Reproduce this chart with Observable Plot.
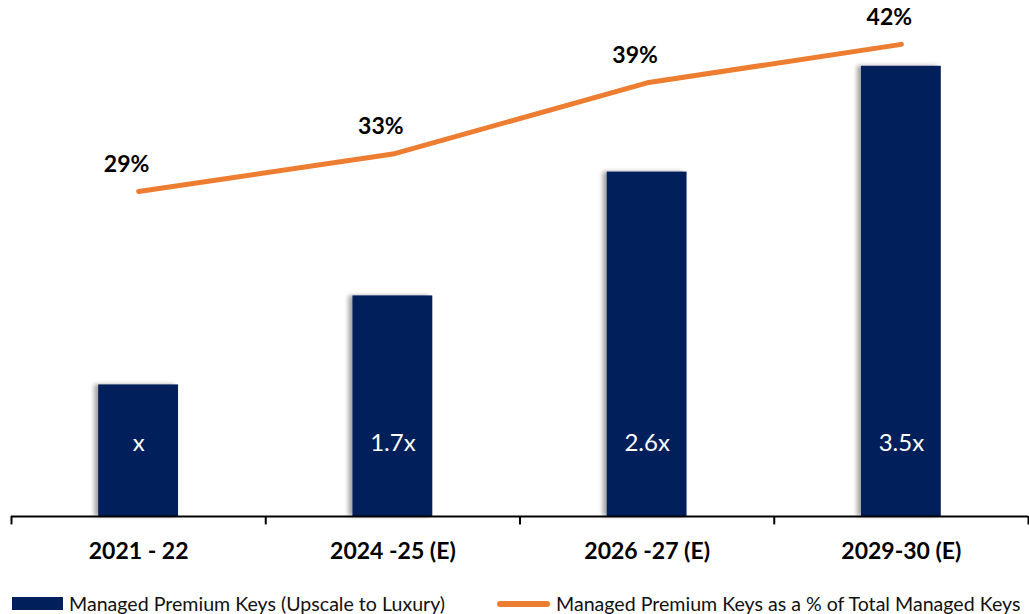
<!DOCTYPE html>
<html>
<head>
<meta charset="utf-8">
<script src="https://cdn.jsdelivr.net/npm/d3@7"></script>
<script src="https://cdn.jsdelivr.net/npm/@observablehq/plot@0.6"></script>
<style>
  html, body { margin: 0; padding: 0; background: #fff; }
  body { width: 1029px; height: 614px; overflow: hidden; font-family: Lato, "Open Sans", sans-serif; }
  .bars rect { filter: drop-shadow(-4px 0px 2px rgba(0,0,0,0.35)); }
  .legend { position: absolute; top: 593px; left: 0; width: 1029px; height: 21px; font-size: 19.6px; color: #111; }
  .legend .item { position: absolute; top: 0; display: flex; align-items: center; height: 21px; white-space: nowrap; }
  .legend .sw-bar { width: 51px; height: 13px; background: #001F5B; margin-right: 6px; }
  .legend .sw-line { width: 53px; height: 6px; border-radius: 3px; background: #ED7D31; margin-right: 6px; }
</style>
</head>
<body>
<div id="chart"></div>
<div class="legend">
  <div class="item" style="left:12px"><span class="sw-bar"></span><span id="leg1"></span></div>
  <div class="item" style="left:497px"><span class="sw-line"></span><span id="leg2"></span></div>
</div>
<script>
// ---- data ----
const categories = ["2021 - 22", "2024 -25 (E)", "2026 -27 (E)", "2029-30 (E)"];
const barValues = [1.02, 1.71, 2.67, 3.49];           // bar heights (relative keys)
const barLabels = ["x", "1.7x", "2.6x", "3.5x"];
const sharePct = [29, 32.3, 38.6, 42];                // % of total managed keys
const shareLabels = ["29%", "33%", "39%", "42%"];
const seriesNames = ["Managed Premium Keys (Upscale to Luxury)", "Managed Premium Keys as a % of Total Managed Keys"];

document.getElementById("leg1").textContent = seriesNames[0];
document.getElementById("leg2").textContent = seriesNames[1];

// secondary axis mapping (percent -> bar units), like a hidden secondary axis
const pctToBar = d3.scaleLinear([29, 42], [2.52, 3.66]);

const rows = categories.map((c, i) => ({
  i, c,
  v: barValues[i],
  lab: barLabels[i],
  p: sharePct[i],
  pl: shareLabels[i],
  py: pctToBar(sharePct[i])
}));
const halfW = 0.157;
const tickEdges = d3.range(categories.length + 1);

const chart = Plot.plot({
  width: 1029,
  height: 580,
  marginTop: 0,
  marginBottom: 64,
  marginLeft: 11,
  marginRight: 1,
  x: { domain: [0, categories.length], axis: null },
  y: { domain: [0, 4], axis: null },
  style: { fontFamily: "Lato, 'Open Sans', sans-serif", background: "transparent", overflow: "visible" },
  marks: [
    Plot.rectY(rows, { x1: d => d.i + 0.5 - halfW, x2: d => d.i + 0.5 + halfW, y1: 0, y2: "v", fill: "#001F5B", className: "bars" }),
    Plot.ruleY([0], { stroke: "#000", strokeWidth: 2 }),
    Plot.ruleX(tickEdges, { x: d => d, y1: 0, y2: -0.065, stroke: "#000", strokeWidth: 2 }),
    Plot.text(rows, { x: d => d.i + 0.5, y: 0, text: "lab", dy: -73, fill: "#fff", fontSize: 24 }),
    Plot.text(rows, { x: d => d.i + 0.5, y: 0, text: "c", dy: 35, fill: "#000", fontSize: 23, fontWeight: "bold" }),
    Plot.line(rows, { x: d => d.i + 0.5, y: "py", stroke: "#ED7D31", strokeWidth: 5, strokeLinecap: "round", strokeLinejoin: "round" }),
    Plot.text(rows, { x: d => d.i + 0.5, y: "py", text: "pl", dy: -27, dx: -12, fill: "#000", fontSize: 23, fontWeight: "bold" })
  ]
});
document.getElementById("chart").appendChild(chart);
</script>
</body>
</html>
